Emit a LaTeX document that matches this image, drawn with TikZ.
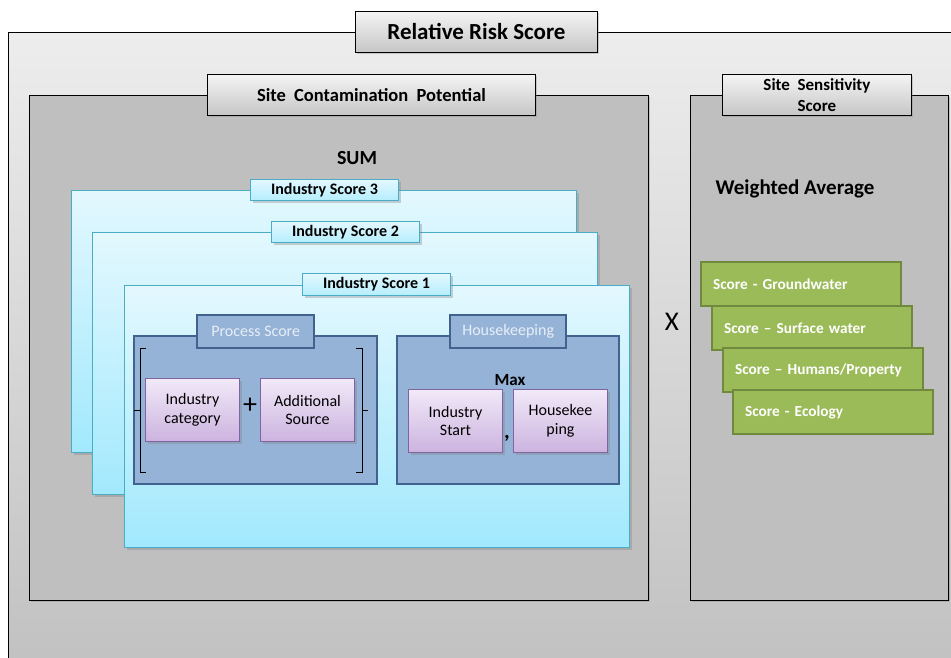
\documentclass[tikz,border=0pt]{standalone}
\usepackage{fontspec}
\setmainfont{Carlito}
\usetikzlibrary{shadows}

\definecolor{outertop}{HTML}{EDEDED}
\definecolor{outerbot}{HTML}{C0C0C0}
\definecolor{boxgrey}{HTML}{BFBFBF}
\definecolor{titletop}{HTML}{F4F4F4}
\definecolor{titlebot}{HTML}{C6C6C6}
\definecolor{indtop}{HTML}{E3F8FE}
\definecolor{indbot}{HTML}{A2E9FD}
\definecolor{indborder}{HTML}{4BACC6}
\definecolor{bluefill}{HTML}{95B3D7}
\definecolor{blueborder}{HTML}{41618F}
\definecolor{bluetext}{HTML}{E8EEF7}
\definecolor{purptop}{HTML}{F1E9F8}
\definecolor{purpbot}{HTML}{CCB3DF}
\definecolor{purpborder}{HTML}{8064A2}
\definecolor{greenfill}{HTML}{9BBB59}
\definecolor{greenborder}{HTML}{71893F}

\tikzset{
  softshadow/.style={drop shadow={opacity=0.35, shadow xshift=2pt, shadow yshift=-2pt}},
  greybox/.style={rectangle, draw=black, line width=0.9pt, fill=boxgrey, anchor=north west, softshadow},
  titlebox/.style={rectangle, draw=black, line width=0.9pt, top color=titletop, bottom color=titlebot, anchor=north west, align=center, font=\bfseries, softshadow},
  industry/.style={rectangle, draw=indborder, line width=1pt, top color=indtop, bottom color=indbot, anchor=north west, minimum width=505pt, minimum height=262pt, softshadow},
  indtitle/.style={rectangle, draw=indborder, line width=1pt, top color=indtop, bottom color=indbot!70!indtop, anchor=north west, minimum width=148pt, minimum height=21pt, inner sep=1pt, font=\bfseries\fontsize{16}{18}\selectfont, softshadow},
  bluebox/.style={rectangle, draw=blueborder, line width=2.4pt, fill=bluefill, anchor=north west},
  bluetab/.style={bluebox, minimum height=33pt, inner sep=1pt, text=bluetext, font=\fontsize{16}{18}\selectfont},
  purplebox/.style={rectangle, draw=purpborder, line width=1pt, top color=purptop, bottom color=purpbot, anchor=north west, minimum width=94pt, minimum height=63pt, inner sep=1pt, align=center, font=\fontsize{16}{18.5}\selectfont, softshadow},
  greenbox/.style={rectangle, draw=greenborder, line width=2.2pt, fill=greenfill, anchor=north west, minimum height=44pt, text width=176pt, inner xsep=12pt, align=left, text=white, font=\bfseries\fontsize{15.3}{17}\selectfont},
  bigword/.style={font=\bfseries\fontsize{21}{23}\selectfont}
}

\begin{document}
\begin{tikzpicture}[x=1pt, y=-1pt]
  \useasboundingbox (0,0) rectangle (951,657);
  \clip (0,0) rectangle (951,657);

  % outer frame
  \node[rectangle, draw=black, line width=0.9pt, top color=outertop, bottom color=outerbot, anchor=north west, minimum width=960pt, minimum height=650pt] (risk) at (8,32) {};
  \node[titlebox, minimum width=242pt, minimum height=41pt, font=\bfseries\fontsize{23}{25}\selectfont] (risktitle) at (355,11) {Relative Risk Score};

  % site contamination potential
  \node[greybox, minimum width=619pt, minimum height=505pt] (scp) at (29,95) {};
  \node[titlebox, minimum width=328pt, minimum height=41pt, font=\bfseries\fontsize{18.5}{20}\selectfont] (scptitle) at (207,74) {Site\ \ Contamination\ \ Potential};
  \node[bigword, font=\bfseries\fontsize{20}{22}\selectfont] (sum) at (357,158) {SUM};

  % site sensitivity score
  \node[greybox, minimum width=258pt, minimum height=505pt] (sss) at (690,95) {};
  \node[titlebox, minimum width=189pt, minimum height=41pt, inner sep=0pt, font=\bfseries\fontsize{17}{21.5}\selectfont] (ssstitle) at (722,74) {Site\ \ Sensitivity\\Score};
  \node[bigword] (wavg) at (795,189) {Weighted Average};
  \node[font=\fontsize{27}{29}\selectfont] (times) at (672,322) {X};

  % industry scores
  \node[industry] (ind3) at (71,190) {};
  \node[indtitle] (ind3title) at (250,179) {Industry Score 3};
  \node[industry] (ind2) at (92,232) {};
  \node[indtitle] (ind2title) at (271,221) {Industry Score 2};
  \node[industry] (ind1) at (124,285) {};
  \node[indtitle, minimum height=22pt] (ind1title) at (302,273) {Industry Score 1};

  % process score
  \node[bluebox, minimum width=243pt, minimum height=148pt] (process) at (133,335) {};
  \node[bluetab, minimum width=117pt] (processtab) at (196,314) {Process Score};
  \node[purplebox] (category) at (145,378) {Industry\\category};
  \node[purplebox] (additional) at (260,378) {Additional\\Source};
  \node[font=\fontsize{28}{30}\selectfont] (plus) at (250,406) {+};
  \draw[line width=0.8pt] (146,348) -- (140,348) -- (140,472) -- (146,472)
        (140,410) -- (134,410);
  \draw[line width=0.8pt] (356,348) -- (362,348) -- (362,472) -- (356,472)
        (362,410) -- (368,410);

  % housekeeping
  \node[bluebox, minimum width=222pt, minimum height=148pt] (house) at (396,335) {};
  \node[bluetab, minimum width=116pt] (housetab) at (449,314) {Housekeeping};
  \node[font=\bfseries\fontsize{17}{19}\selectfont] (max) at (510,380) {Max};
  \node[purplebox] (start) at (408,389) {Industry\\Start};
  \node[purplebox] (keeping) at (513,389) {Housekee\\ping};
  \node[font=\bfseries\fontsize{22}{24}\selectfont] (comma) at (507,438) {,};

  % receptor scores
  \node[greenbox] (ground) at (700,261) {Score - Groundwater};
  \node[greenbox] (surface) at (711,305) {Score -- Surface water};
  \node[greenbox] (humans) at (722,347) {Score -- Humans/Property};
  \node[greenbox] (ecology) at (732,389) {Score - Ecology};
\end{tikzpicture}
\end{document}
